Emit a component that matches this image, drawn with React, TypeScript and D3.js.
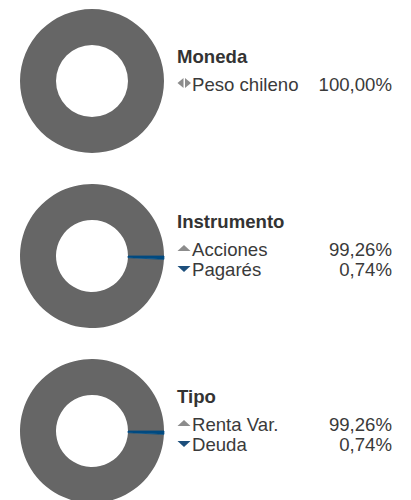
import React from "react";
import * as d3 from "d3";

const sectionTitles = ["Moneda", "Instrumento", "Tipo"];
const monedaLabels = ["Peso chileno"];
const monedaValues = [100.0];
const monedaTrends = ["neutral"];
const instrumentoLabels = ["Acciones", "Pagarés"];
const instrumentoValues = [99.26, 0.74];
const instrumentoTrends = ["up", "down"];
const tipoLabels = ["Renta Var.", "Deuda"];
const tipoValues = [99.26, 0.74];
const tipoTrends = ["up", "down"];

const sliceColors = ["#666666", "#004a80"];

const W = 411;
const H = 500;
const FONT = "'Liberation Sans', Arial, Helvetica, sans-serif";
const FS = 18.6;

type Section = { title: string; labels: string[]; values: number[]; trends: string[] };
const sections: Section[] = [
  { title: sectionTitles[0], labels: monedaLabels, values: monedaValues, trends: monedaTrends },
  { title: sectionTitles[1], labels: instrumentoLabels, values: instrumentoValues, trends: instrumentoTrends },
  { title: sectionTitles[2], labels: tipoLabels, values: tipoValues, trends: tipoTrends },
];

const fmt = (v: number) => v.toFixed(2).replace(".", ",") + "%";

// x: left edge of icon, y: text baseline
function Icon({ kind, x, y }: { kind: string; x: number; y: number }) {
  if (kind === "up") {
    return <path d={`M${x + 0.5},${y - 5} L${x + 7},${y - 11} L${x + 13.5},${y - 5} Z`} fill="#8c8c8c" />;
  }
  if (kind === "down") {
    return <path d={`M${x + 0.5},${y - 10} L${x + 13.5},${y - 10} L${x + 7},${y - 4} Z`} fill="#1d4f7c" />;
  }
  return (
    <g fill="#8c8c8c">
      <path d={`M${x + 6.5},${y - 13} L${x + 6.5},${y - 3} L${x + 0.5},${y - 8} Z`} />
      <path d={`M${x + 8},${y - 13} L${x + 8},${y - 3} L${x + 14},${y - 8} Z`} />
    </g>
  );
}

export default function App() {
  const cx = 92;
  const centers = d3.scaleLinear().domain([0, 2]).range([81, 431]);
  const rOuter = 72;
  const rInner = 36;
  const arc = d3.arc<d3.PieArcDatum<number>>().innerRadius(rInner).outerRadius(rOuter);
  const textX = 192;
  const valueX = 392;
  const iconX = 177;

  return (
    <svg
      width={W}
      height={H}
      style={{ position: "absolute", left: 0, top: 0, display: "block", background: "#ffffff" }}
      fontFamily={FONT}
    >
      {sections.map((s, i) => {
        const cy = centers(i);
        const total = d3.sum(s.values);
        const last = s.values[s.values.length - 1];
        const start = Math.PI / 2 + (last / total) * 2 * Math.PI;
        const pie = d3
          .pie<number>()
          .sort(null)
          .value((d) => d)
          .startAngle(start)
          .endAngle(start + 2 * Math.PI);
        const arcs = pie(s.values);
        const n = s.labels.length;
        const titleY = cy - 4 - (28 + 20 * (n - 1)) / 2;
        return (
          <g key={s.title}>
            <g transform={`translate(${cx},${cy})`}>
              {arcs.map((a, j) => (
                <path
                  key={j}
                  d={arc(a) || ""}
                  fill={sliceColors[j % sliceColors.length]}
                  stroke={j > 0 ? sliceColors[j] : "none"}
                  strokeWidth={j > 0 ? 0.8 : 0}
                />
              ))}
            </g>
            <text x={iconX} y={titleY} fontSize={FS} fontWeight="bold" fill="#333333">
              {s.title}
            </text>
            {s.labels.map((lab, j) => {
              const y = titleY + 28 + 20 * j;
              return (
                <g key={lab}>
                  <Icon kind={s.trends[j]} x={iconX} y={y} />
                  <text x={textX} y={y} fontSize={FS} fill="#3a3a3a">
                    {lab}
                  </text>
                  <text x={valueX} y={y} fontSize={FS} fill="#3a3a3a" textAnchor="end">
                    {fmt(s.values[j])}
                  </text>
                </g>
              );
            })}
          </g>
        );
      })}
    </svg>
  );
}
